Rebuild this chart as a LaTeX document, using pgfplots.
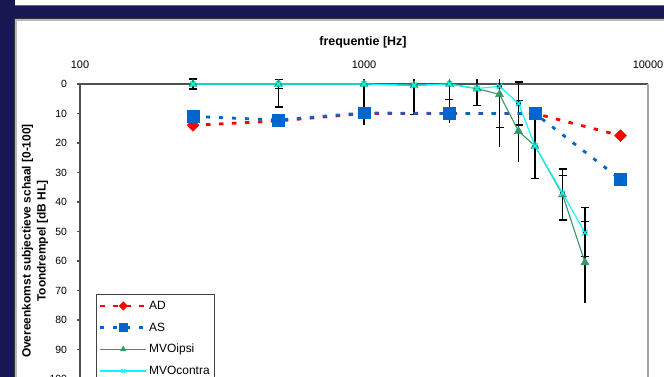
\documentclass[border=0pt]{standalone}
\usepackage{fontspec}
\setmainfont{Liberation Sans}
\usepackage{pgfplots}
\pgfplotsset{compat=1.18}
\definecolor{navy}{RGB}{24,23,84}
\definecolor{adred}{RGB}{255,0,0}
\definecolor{asblue}{RGB}{0,102,204}
\definecolor{ipsigreen}{RGB}{51,153,102}
\definecolor{contracyan}{RGB}{0,255,255}
\definecolor{axisgray}{RGB}{80,80,80}
\definecolor{rightgray}{RGB}{166,166,166}
\begin{document}
\begin{tikzpicture}
\useasboundingbox (0,0) rectangle (664bp,-377bp);
\clip (0,0) rectangle (664bp,-377bp);
\fill[white] (0,0) rectangle (664bp,-377bp);
% slide frame
\fill[gray!55] (14bp,-18bp) rectangle (16.5bp,-377bp);
\fill[gray!55] (14bp,-18bp) rectangle (664bp,-20.5bp);
\fill[navy] (0,-5bp) rectangle (664bp,-18.5bp);
\fill[navy] (0,0) rectangle (14.5bp,-377bp);
\draw[black!80, line width=0.6bp] (14.5bp,-18.5bp) -- (664bp,-18.5bp);
\draw[black!80, line width=0.6bp] (14.5bp,-18.5bp) -- (14.5bp,-377bp);
\draw[black!60, line width=0.5bp] (14.5bp,-5bp) -- (664bp,-5bp);

\begin{axis}[
  at={(80bp,-84bp)}, anchor=north west,
  scale only axis, width=568bp, height=295bp,
  xmode=log, xmin=100, xmax=10000,
  ymin=0, ymax=100, y dir=reverse,
  clip=false,
  axis line style={draw=none},
  xtick={100,1000,10000},
  xticklabels={100,1000,10000},
  xticklabel pos=right,
  xminorticks=false,
  xtick style={draw=none},
  ytick={0,10,...,100},
  ytick pos=left,
  tick align=outside,
  major tick length=3bp,
  ytick style={axisgray, line width=1.2bp},
  /pgf/number format/assume math mode=true,
  xticklabel style={font=\fontsize{11}{13}\selectfont, yshift=9bp},
  yticklabel style={font=\fontsize{10.5}{12}\selectfont, xshift=-6.5bp},
  legend style={at={(axis cs:113.6,71.2)}, anchor=north west,
    draw=black!75, line width=0.8bp, fill=white,
    font=\fontsize{12}{14}\selectfont,
    inner xsep=2.8bp, inner ysep=3.5bp, row sep=5.7bp,
    nodes={inner sep=1.5bp}},
  legend cell align=left,
  legend image code/.code={
    \path[draw=none, fill=none] (0bp,-8bp) rectangle (46bp,8bp);
    \draw[mark repeat=2, mark phase=2, #1, every mark/.append style={scale=0.7}]
      plot coordinates {(0bp,0bp) (23bp,0bp) (46bp,0bp)};
  },
]
% axis lines
\draw[axisgray, line width=1.6bp] (axis cs:100,0) -- (axis cs:10000,0);
\draw[axisgray, line width=1.4bp] (axis cs:100,0) -- (axis cs:100,100);
\draw[rightgray, line width=1.4bp] (axis cs:10000,0) -- (axis cs:10000,100);

% error bars: plus, capped
\addplot[black, only marks, mark=none, forget plot,
  error bars/.cd, y dir=plus, y explicit,
  error bar style={draw=black, solid, line width=1.2bp},
  error mark options={rotate=90, black, solid, mark size=4bp, line width=1.2bp}]
  coordinates {
  (250,0) +- (0,1.7) (500,0) +- (0,7.8) (1500,0.5) +- (0,9.9) (2500,1.6) +- (0,5.7)
  (4000,21) +- (0,11) (5000,37.5) +- (0,8.7)
  (500,0) +- (0,1.6) (2000,0) +- (0,5.2) (3000,0.8) +- (0,14) (3500,6.6) +- (0,7.3)
  (5000,37) +- (0,9) (6000,50.4) +- (0,8)
  };
% error bars: plus, no cap
\addplot[black, only marks, mark=none, forget plot,
  error bars/.cd, y dir=plus, y explicit, error mark=none,
  error bar style={draw=black, solid, line width=1.2bp}]
  coordinates {
  (1000,0) +- (0,14) (2000,0) +- (0,13.3) (3000,3.5) +- (0,17.8) (3500,16) +- (0,10.4)
  (6000,60.5) +- (0,13.9)
  };
% error bars: minus, capped
\addplot[black, only marks, mark=none, forget plot,
  error bars/.cd, y dir=minus, y explicit,
  error bar style={draw=black, solid, line width=1.2bp},
  error mark options={rotate=90, black, solid, mark size=4bp, line width=1.2bp}]
  coordinates {
  (250,0) +- (0,1.7) (3500,16) +- (0,10.4) (4000,21) +- (0,11) (5000,37.5) +- (0,8.7)
  (6000,60.5) +- (0,14)
  (500,0) +- (0,1.6) (3500,6.6) +- (0,7.3) (5000,37) +- (0,6) (6000,50.4) +- (0,8.5)
  };
% error bars: minus, clipped at the top of the plot area
\addplot[black, only marks, mark=none, forget plot,
  error bars/.cd, y dir=minus, y explicit, error mark=none,
  error bar style={draw=black, solid, line width=1.2bp}]
  coordinates {
  (500,0) +- (0,1.8) (1000,0) +- (0,1.8) (1500,0.5) +- (0,2.3) (2000,0) +- (0,1.8)
  (2500,1.6) +- (0,3.4) (3000,3.5) +- (0,5.3) (3000,0.8) +- (0,2.6)
  };

\addplot[adred, line width=2.8bp, dash pattern=on 4.5bp off 8.5bp,
  mark=square*, mark size=4.2bp,
  mark options={solid, rotate=45, fill=adred, line width=0.5bp}]
  coordinates {(250,14) (500,12.5) (1000,10) (2000,10) (4000,10) (8000,17.5)};
\addlegendentry{AD}
\addplot[asblue, line width=2.8bp, dash pattern=on 4bp off 9bp,
  mark=square*, mark size=5.8bp,
  mark options={solid, fill=asblue, line width=0.5bp}]
  coordinates {(250,11) (500,12.2) (1000,9.8) (2000,10) (4000,10) (8000,32.3)};
\addlegendentry{AS}
\addplot[ipsigreen, line width=1.1bp,
  mark=triangle*, mark size=4.6bp,
  mark options={solid, fill=ipsigreen, line width=0.5bp}]
  coordinates {(250,0) (500,0) (1000,0) (1500,0.5) (2000,0) (2500,1.6) (3000,3.5)
  (3500,16) (4000,21) (5000,37.5) (6000,60.5)};
\addlegendentry{MVOipsi}
\addplot[contracyan, line width=1.1bp,
  mark=x, mark size=3.8bp,
  mark options={solid, line width=1.2bp}]
  coordinates {(250,0) (500,0) (1000,0) (1500,0.4) (2000,0) (2500,1.5) (3000,0.8)
  (3500,6.6) (4000,21) (5000,37) (6000,50.4)};
\addlegendentry{MVOcontra}
\end{axis}

\node[font=\bfseries\fontsize{12.5}{14}\selectfont] at (363bp,-42bp) {frequentie [Hz]};
\node[rotate=90, align=center, font=\bfseries\fontsize{12}{15}\selectfont] at (35bp,-241bp)
  {Overeenkomst subjectieve schaal [0-100]\\Toondrempel [dB HL]};
\end{tikzpicture}
\end{document}
